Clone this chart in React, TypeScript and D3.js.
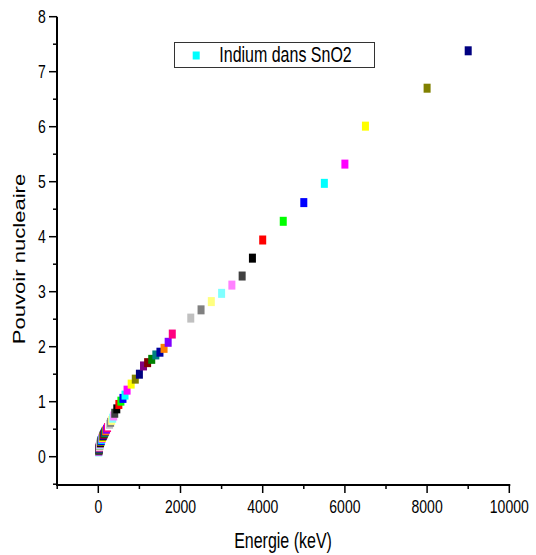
import React from "react";
import * as d3 from "d3";

// Energies (keV) and nuclear stopping values
const energies = [
  10, 11, 12, 13, 14, 15, 16, 17, 18, 20, 22.5, 25, 27.5, 30, 32.5, 35, 37.5, 40, 45, 50,
  55, 60, 65, 70, 80, 90, 100, 110, 120, 130, 140, 150, 160, 170, 180, 200, 225, 250, 275, 300,
  325, 350, 375, 400, 450, 500, 550, 600, 650, 700, 800, 900, 1000, 1100, 1200, 1300, 1400, 1500,
  1600, 1700, 1800, 2000, 2250, 2500, 2750, 3000, 3250, 3500, 3750, 4000, 4500, 5000, 5500, 6000,
  6500, 8000, 9000,
];
const values = [
  0.09, 0.1, 0.11, 0.115, 0.12, 0.13, 0.135, 0.14, 0.145, 0.155, 0.165, 0.175, 0.185, 0.19, 0.2, 0.205, 0.215, 0.22, 0.235, 0.25,
  0.26, 0.275, 0.285, 0.295, 0.315, 0.335, 0.35, 0.37, 0.385, 0.4, 0.415, 0.43, 0.445, 0.46, 0.47, 0.5, 0.53, 0.56, 0.59, 0.625,
  0.66, 0.7, 0.74, 0.79, 0.87, 0.95, 1.01, 1.06, 1.12, 1.21, 1.32, 1.41, 1.5, 1.65, 1.71, 1.77, 1.85, 1.9,
  1.97, 2.08, 2.23, 2.38, 2.52, 2.67, 2.82, 2.97, 3.12, 3.285, 3.61, 3.94, 4.28, 4.62, 4.97, 5.32,
  6.01, 6.7, 7.38,
];

// Origin default colour cycle
const colorCycle = [
  "#000000", "#FF0000", "#00FF00", "#0000FF", "#00FFFF", "#FF00FF", "#FFFF00", "#808000",
  "#000080", "#800080", "#800000", "#008000", "#008080", "#0000A0", "#FF8000", "#8000FF",
  "#FF0080", "#FFFFFF", "#C0C0C0", "#808080", "#FFFF80", "#80FFFF", "#FF80FF", "#404040",
];

const xTicksMajor = [0, 2000, 4000, 6000, 8000, 10000];
const xTicksMinor = [-1000, 1000, 3000, 5000, 7000, 9000];
const yTicksMajor = [0, 1, 2, 3, 4, 5, 6, 7, 8];
const yTicksMinor = [-0.5, 0.5, 1.5, 2.5, 3.5, 4.5, 5.5, 6.5, 7.5];

const legendLabel = "Indium dans SnO2";
const xTitle = "Energie (keV)";
const yTitle = "Pouvoir nucleaire";

export default function App() {
  const W = 536;
  const H = 555;
  const x = d3.scaleLinear().domain([-1000, 10000]).range([57.2, 509.3]);
  const y = d3.scaleLinear().domain([-0.5, 8]).range([484.2, 16.7]);
  const n = energies.length;
  const offset = (((8 - (n - 1)) % 24) + 24) % 24;
  const font = "'Liberation Sans', Arial, sans-serif";
  const axX = 57;
  const axY = 485;
  const mw = 7;
  const mh = 9;

  return (
    <svg
      width={W}
      height={H}
      style={{ position: "absolute", left: 0, top: 0, background: "#fff" }}
      fontFamily={font}
    >
      <rect x={0} y={0} width={W} height={H} fill="#fff" />
      {/* axes */}
      <line x1={axX} x2={axX} y1={y(8)} y2={axY + 1} stroke="#000" strokeWidth={2} />
      <line x1={axX - 1} x2={x(10000) + 1} y1={axY} y2={axY} stroke="#000" strokeWidth={2} />
      {yTicksMajor.map((t) => (
        <g key={"ym" + t}>
          <line x1={axX - 8} x2={axX} y1={y(t)} y2={y(t)} stroke="#000" strokeWidth={1.5} />
          <text
            transform={`translate(45.7,${y(t) + 6.3}) scale(1,1.27)`}
            textAnchor="end"
            fontSize={14}
            fill="#000"
          >
            {t}
          </text>
        </g>
      ))}
      {yTicksMinor.map((t) => (
        <line key={"yn" + t} x1={axX - 4} x2={axX} y1={y(t)} y2={y(t)} stroke="#000" strokeWidth={1.5} />
      ))}
      {xTicksMajor.map((t) => (
        <g key={"xm" + t}>
          <line x1={x(t)} x2={x(t)} y1={axY} y2={axY + 8} stroke="#000" strokeWidth={1.5} />
          <text
            transform={`translate(${x(t)},513) scale(1,1.27)`}
            textAnchor="middle"
            fontSize={14}
            fill="#000"
          >
            {t}
          </text>
        </g>
      ))}
      {xTicksMinor.map((t) => (
        <line key={"xn" + t} x1={x(t)} x2={x(t)} y1={axY} y2={axY + 4} stroke="#000" strokeWidth={1.5} />
      ))}
      {/* titles */}
      <text
        transform="translate(283,548) scale(1,1.38)"
        textAnchor="middle"
        fontSize={16}
        fill="#000"
      >
        {xTitle}
      </text>
      <text
        transform="translate(25,259) scale(1,1.38) rotate(-90)"
        textAnchor="middle"
        fontSize={16}
        fill="#000"
      >
        {yTitle}
      </text>
      {/* points */}
      {energies.map((e, i) => (
        <rect
          key={"p" + i}
          x={x(e) - mw / 2}
          y={y(values[i]) - mh / 2}
          width={mw}
          height={mh}
          fill={colorCycle[(offset + i) % 24]}
        />
      ))}
      {/* legend */}
      <rect x={174.5} y={42.5} width={200} height={25} fill="#fff" stroke="#333" strokeWidth={1} />
      <rect x={192.7} y={51.5} width={7} height={8} fill="#00FFFF" />
      <text transform="translate(219.3,62) scale(1,1.38)" fontSize={16} fill="#000">
        {legendLabel}
      </text>
    </svg>
  );
}
